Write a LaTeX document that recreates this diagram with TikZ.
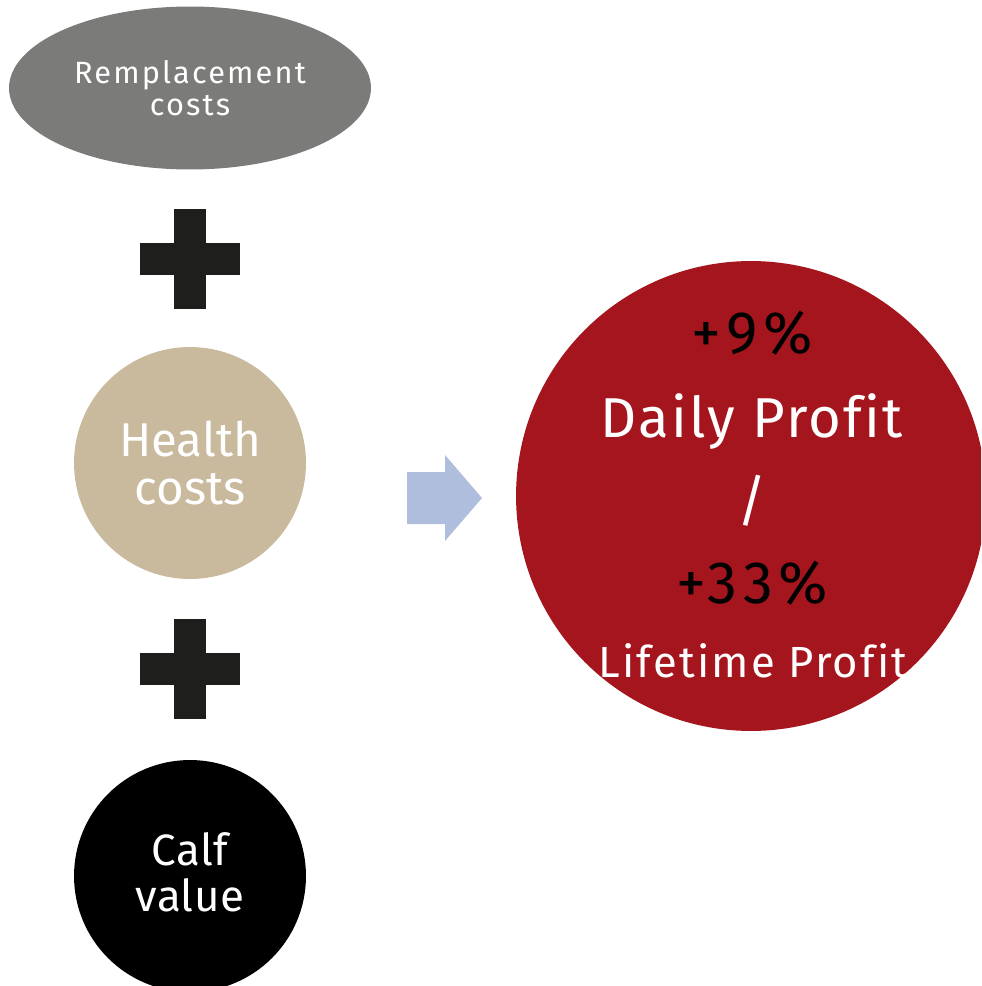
\documentclass[tikz,border=0pt]{standalone}
\usepackage{fontspec}
\setmainfont{Fira Sans}[Ligatures=NoCommon]
\usepackage{tikz}
\usetikzlibrary{shapes.geometric, positioning}

\definecolor{replgray}{RGB}{123,123,122}
\definecolor{healthtan}{RGB}{201,185,157}
\definecolor{profitred}{RGB}{165,21,29}
\definecolor{arrowblue}{RGB}{176,190,222}
\definecolor{plusblack}{RGB}{30,30,28}

% size, leading and tracking in one go
\newcommand{\txtsize}[3]{\fontsize{#1}{#2}\selectfont\addfontfeature{LetterSpace=#3}}

\tikzset{
    blob/.style={circle, inner sep=0pt, minimum size=4.64cm, text=white, align=center},
    plusbar/.style={fill=plusblack, inner sep=0pt, minimum width=2cm, minimum height=0.64cm},
    gain/.style={anchor=base, text=black, font=\txtsize{34}{36}{9}},
    gaintext/.style={anchor=base, text=white},
}

\begin{document}
\begin{tikzpicture}[x=0.02cm, y=-0.02cm]
    \useasboundingbox (0, 0) rectangle (981, 986);

    % Cost terms
    \node[ellipse, fill=replgray, inner sep=0pt, minimum width=7.24cm, minimum height=3.26cm,
          text=white, align=center, font=\txtsize{17.5}{19.9}{7}]
          (repl) at (190, 88) {\raisebox{-2pt}{Remplacement}\\costs};
    \node[blob, fill=healthtan, font=\txtsize{27}{27.3}{0}] (health) at (190, 463) {Health\\costs};
    \node[blob, fill=black, font=\txtsize{25}{26.2}{1}] (calf) at (190, 876) {\raisebox{4pt}{Calf}\\\raisebox{4pt}{value}};

    % Plus signs
    \foreach \name/\y in {plusA/259, plusB/669} {
        \node[plusbar] (\name-h) at (190, \y) {};
        \node[plusbar, rotate=90] (\name-v) at (190, \y) {};
    }

    % Arrow
    \fill[arrowblue] (407, 472) -- (445, 472) -- (445, 455) -- (482, 498)
        -- (445, 541) -- (445, 524) -- (407, 524) -- cycle;

    % Result
    \begin{scope}
        \clip (0, 0) rectangle (981, 986);
        \node[circle, fill=profitred, inner sep=0pt, minimum size=9.4cm] (profit) at (751, 496) {};
    \end{scope}
    \node[gain] (daygain) at (752, 353) {+9\%};
    \node[gaintext, font=\txtsize{32}{36}{4}] (day) at (752, 437) {Daily Profit};
    \node[gaintext, font=\txtsize{32}{36}{4}] (slash) at (752, 520) {/};
    \node[gain] (lifegain) at (752, 603) {+33\%};
    \node[gaintext, font=\txtsize{24.8}{28}{5}] (life) at (753, 677) {Lifetime Profit};
\end{tikzpicture}
\end{document}
